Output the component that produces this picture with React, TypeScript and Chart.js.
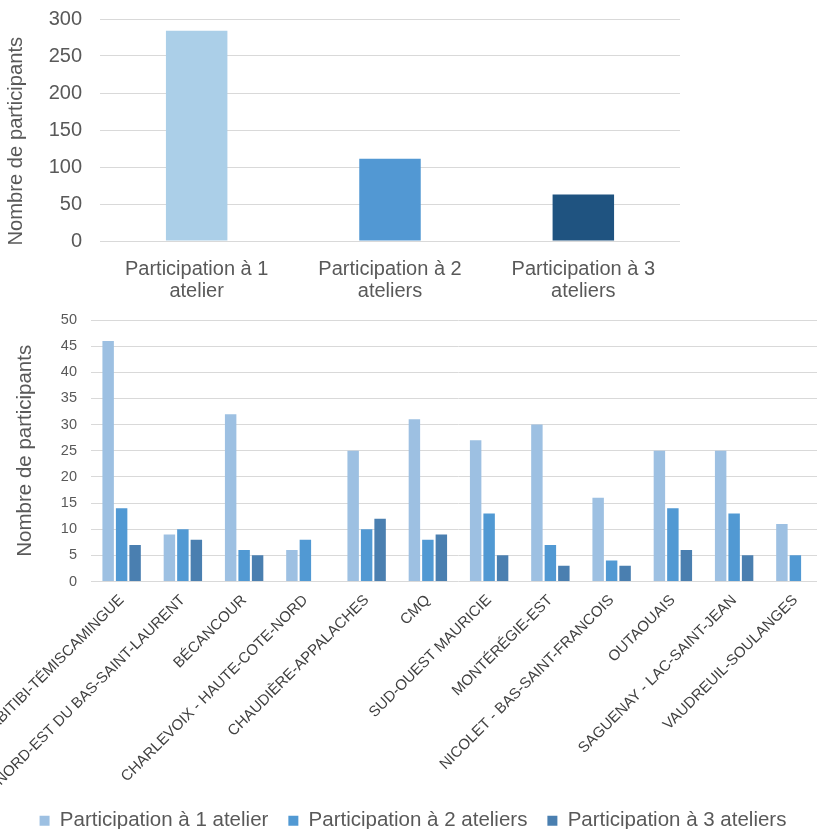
import React, { useEffect, useRef } from 'react';
import { Chart, registerables } from 'chart.js';

Chart.register(...registerables);

const FONT = "'Liberation Sans', Arial, Helvetica, sans-serif";

// ---- Top chart data ----
const totalCategories = [
  ['Participation à 1', 'atelier'],
  ['Participation à 2', 'ateliers'],
  ['Participation à 3', 'ateliers'],
];
const totalValues = [284, 111, 63];
const totalColors = ['#ABCFE8', '#5298D3', '#1F5380'];
const totalMax = 300;
const totalStep = 50;

// ---- Bottom chart data ----
const regions = [
  'ABITIBI-TÉMISCAMINGUE',
  'NORD-EST DU BAS-SAINT-LAURENT',
  'BÉCANCOUR',
  'CHARLEVOIX - HAUTE-COTE-NORD',
  'CHAUDIÈRE-APPALACHES',
  'CMQ',
  'SUD-OUEST MAURICIE',
  'MONTÉRÉGIE-EST',
  'NICOLET - BAS-SAINT-FRANCOIS',
  'OUTAOUAIS',
  'SAGUENAY - LAC-SAINT-JEAN',
  'VAUDREUIL-SOULANGES',
];
const oneWorkshop = [46, 9, 32, 6, 25, 31, 27, 30, 16, 25, 25, 11];
const twoWorkshops = [14, 10, 6, 8, 10, 8, 13, 7, 4, 14, 13, 5];
const threeWorkshops = [7, 8, 5, null, 12, 9, 5, 3, 3, 6, 5, null];
const seriesLabels = [
  'Participation à 1 atelier',
  'Participation à 2 ateliers',
  'Participation à 3 ateliers',
];
const seriesColors = ['#9DC0E2', '#5199D3', '#4A7FB0'];
const regionMax = 50;
const regionStep = 5;

const axisTitle = 'Nombre de participants';

const TOP_W = 700;
const TOP_H = 302;
const BOT_W = 826;
const BOT_H = 541;

export default function App() {
  const topRef = useRef<HTMLCanvasElement | null>(null);
  const botRef = useRef<HTMLCanvasElement | null>(null);

  useEffect(() => {
    const top = new Chart(topRef.current as HTMLCanvasElement, {
      type: 'bar',
      data: {
        labels: totalCategories as any,
        datasets: [
          {
            data: totalValues,
            backgroundColor: totalColors,
            categoryPercentage: 1,
            barPercentage: 0.318,
          },
        ],
      },
      options: {
        animation: false,
        responsive: false,
        maintainAspectRatio: false,
        devicePixelRatio: 1,
        layout: { padding: { top: 19, right: 20, left: 0, bottom: 0 } },
        plugins: { legend: { display: false }, tooltip: { enabled: false } },
        scales: {
          x: {
            grid: { display: false },
            border: { display: false },
            ticks: {
              color: '#595959',
              font: { family: FONT, size: 20, lineHeight: 1.12 },
              padding: 9,
              maxRotation: 0,
              autoSkip: false,
            },
            afterFit: (s: any) => {
              s.height = TOP_H - 241;
            },
          },
          y: {
            min: 0,
            max: totalMax,
            ticks: {
              stepSize: totalStep,
              color: '#595959',
              font: { family: FONT, size: 20 },
              padding: 18,
            },
            grid: { color: '#d9d9d9', drawTicks: false, lineWidth: 1 },
            border: { display: false },
            title: {
              display: true,
              text: axisTitle + '    ',
              color: '#595959',
              font: { family: FONT, size: 20.2 },
              padding: { top: 4, bottom: 0 },
            },
            afterFit: (s: any) => {
              s.width = 100;
              s.paddingTop = 0;
              s.paddingBottom = 0;
            },
          },
        },
      },
    });

    const seriesData = [oneWorkshop, twoWorkshops, threeWorkshops];
    const bot = new Chart(botRef.current as HTMLCanvasElement, {
      type: 'bar',
      data: {
        labels: regions,
        datasets: seriesLabels.map((label, i) => ({
          label,
          data: seriesData[i] as any,
          backgroundColor: seriesColors[i],
          categoryPercentage: 0.66,
          barPercentage: 0.85,
        })),
      },
      options: {
        animation: false,
        responsive: false,
        maintainAspectRatio: false,
        devicePixelRatio: 1,
        layout: { padding: { top: 20, right: 0, left: 0, bottom: 0 } },
        plugins: {
          tooltip: { enabled: false },
          legend: {
            position: 'bottom',
            labels: {
              boxWidth: 10,
              boxHeight: 10,
              padding: 20,
              color: '#595959',
              font: { family: FONT, size: 20.5 },
            },
          },
        },
        scales: {
          x: {
            grid: { display: false },
            border: { display: false },
            ticks: {
              color: '#404040',
              font: { family: FONT, size: 15 },
              minRotation: 45,
              maxRotation: 45,
              autoSkip: false,
              padding: 2,
            },
            afterFit: (s: any) => {
              s.paddingLeft = 0;
              s.paddingRight = 0;
              s.height = 209;
            },
          },
          y: {
            min: 0,
            max: regionMax,
            ticks: {
              stepSize: regionStep,
              color: '#595959',
              font: { family: FONT, size: 14.5 },
              padding: 14,
            },
            grid: { color: '#d9d9d9', drawTicks: false, lineWidth: 1 },
            border: { display: false },
            title: {
              display: true,
              text: axisTitle,
              color: '#595959',
              font: { family: FONT, size: 20.5 },
              padding: { top: 13, bottom: 0 },
            },
            afterFit: (s: any) => {
              s.width = 91;
              s.paddingTop = 0;
              s.paddingBottom = 0;
            },
          },
        },
      },
    });

    return () => {
      top.destroy();
      bot.destroy();
    };
  }, []);

  return (
    <div
      style={{
        position: 'absolute',
        left: 0,
        top: 0,
        width: 817,
        height: 829,
        overflow: 'hidden',
        background: '#ffffff',
      }}
    >
      <canvas
        ref={topRef}
        width={TOP_W}
        height={TOP_H}
        style={{ position: 'absolute', left: 0, top: 0, width: TOP_W, height: TOP_H }}
      />
      <canvas
        ref={botRef}
        width={BOT_W}
        height={BOT_H}
        style={{ position: 'absolute', left: 0, top: 300, width: BOT_W, height: BOT_H }}
      />
    </div>
  );
}
